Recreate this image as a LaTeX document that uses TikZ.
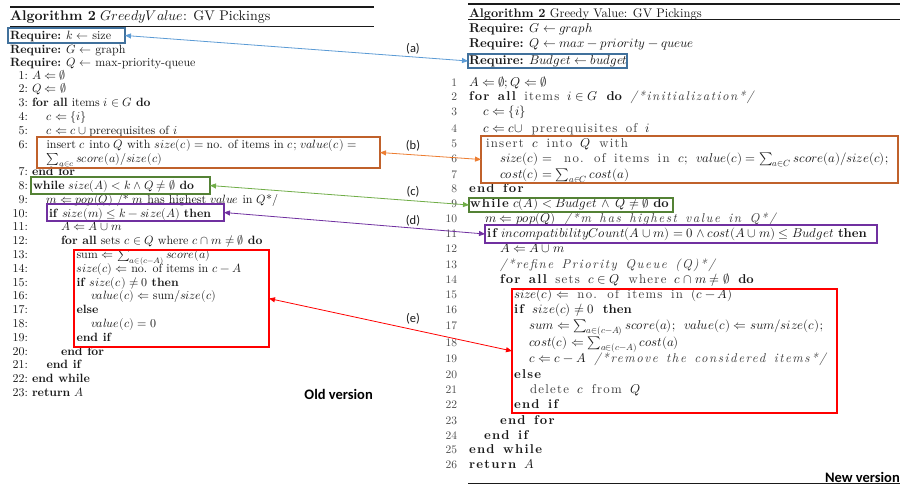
\documentclass[tikz,border=0pt]{standalone}
\usepackage{fontspec}
\usepackage{unicode-math}
% single design size of Latin Modern, scaled linearly
\setmainfont{lmroman10}[Extension=.otf, UprightFont=*-regular, BoldFont=*-bold,
  ItalicFont=*-italic, BoldItalicFont=*-bolditalic]
\setmathfont{latinmodern-math.otf}
\usetikzlibrary{arrows.meta,fit}
\newfontfamily\labelfont{Carlito}
\definecolor{ink}{HTML}{1A1A1A}
\definecolor{soft}{HTML}{3C3C3C}
\definecolor{numgray}{HTML}{4A4A4A}
\definecolor{boxblue}{HTML}{41719C}
\definecolor{arrblue}{HTML}{5B9BD5}
\definecolor{boxorange}{HTML}{C0612B}
\definecolor{arrorange}{HTML}{ED7D31}
\definecolor{boxgreen}{HTML}{548235}
\definecolor{arrgreen}{HTML}{70AD47}
\definecolor{purp}{HTML}{7030A0}
\definecolor{redc}{HTML}{FF0000}
% letter-spaced words of the revised listing
\newcommand\lsp[1]{{\color{soft}\addfontfeatures{LetterSpace=10}#1}}
\newcommand\lspb[1]{{\bfseries\addfontfeatures{LetterSpace=10}#1}}
\newcommand\lspi[1]{{\color{soft}\itshape\addfontfeatures{LetterSpace=12}#1}}
\newcommand\widewords{\spaceskip=8.5pt plus 1pt\relax}
\begin{document}
\begin{tikzpicture}[x=1pt,y=-1pt,
  txt/.style={anchor=base west, inner sep=0pt, outer sep=0pt, text=ink,
    font=\fontsize{12}{14}\selectfont},
  rmath/.style={txt, font=\fontsize{12.8}{15}\selectfont},
  rtxt/.style={txt, font=\fontsize{12.8}{15}\selectfont\widewords},
  num/.style={anchor=base east, inner sep=0pt, outer sep=0pt, text=ink,
    font=\fontsize{12}{14}\selectfont},
  rnum/.style={num, text=numgray, font=\fontsize{11.5}{14}\selectfont},
  hl/.style={draw=#1, line width=1.1pt, inner sep=0pt, outer sep=0pt},
  link/.style={draw=#1, line width=0.8pt,
    {Triangle[length=6pt,width=5pt]}-{Triangle[length=6pt,width=5pt]}},
  lab/.style={inner sep=0pt, font=\labelfont\fontsize{12.5}{14}\selectfont, text=ink},
  ver/.style={anchor=base east, inner sep=0pt, font=\labelfont\bfseries\fontsize{14.5}{16}\selectfont}]
\useasboundingbox (0,0) rectangle (902,487);
\fill[white] (0,0) rectangle (902,487);

% ---------- old listing ----------
\coordinate (lt1) at (10,7);   \coordinate (lt2) at (374,7);
\coordinate (ls1) at (10,26);  \coordinate (ls2) at (374,26);
\draw[line width=1.2pt, ink] (lt1) -- (lt2);
\draw[line width=0.5pt, ink] (ls1) -- (ls2);
\node[txt, font=\fontsize{14}{16}\selectfont] (lhead) at (10,20.5) {\textbf{Algorithm 2} $GreedyValue$: GV Pickings};
\node[txt] (lq1) at (10,39.5) {\textbf{Require:} $k\leftarrow$ size};
\node[txt] (lq2) at (10,53) {\textbf{Require:} $G\leftarrow$ graph};
\node[txt] (lq3) at (10,66.5) {\textbf{Require:} $Q\leftarrow$ max-priority-queue};

\node[num] (ln1) at (28,79) {1:};   \node[txt] (l1) at (32,79) {$A\Leftarrow\emptyset$};
\node[num] (ln2) at (28,92.8) {2:}; \node[txt] (l2) at (32,92.8) {$Q\Leftarrow\emptyset$};
\node[num] (ln3) at (28,106.6) {3:}; \node[txt] (l3) at (32,106.6) {\textbf{for all} items $i\in G$ \textbf{do}};
\node[num] (ln4) at (28,120.4) {4:}; \node[txt] (l4) at (46.5,120.4) {$c\Leftarrow\{i\}$};
\node[num] (ln5) at (28,134.2) {5:}; \node[txt] (l5) at (46.5,134.2) {$c\Leftarrow c\cup{}$prerequisites of $i$};
\node[num] (ln6) at (28,148) {6:}; \node[txt] (l6) at (46.5,148) {insert $c$ into $Q$ with $size(c)={}$no. of items in $c$; $value(c)=$};
\node[txt] (l6b) at (46.5,162) {$\sum_{a\in c} score(a)/size(c)$};
\node[num] (ln7) at (28,175.6) {7:}; \node[txt] (l7) at (32,175.6) {\textbf{end for}};
\node[num] (ln8) at (28,189.4) {8:}; \node[txt] (l8) at (33,189.4) {\textbf{while} $size(A)<k\wedge Q\neq\emptyset$ \textbf{do}};
\node[num] (ln9) at (28,203.2) {9:}; \node[txt] (l9) at (46.5,203.2) {$m\Leftarrow pop(Q)$ /* $m$ has highest $value$ in $Q$*/};
\node[num] (ln10) at (28,217) {10:}; \node[txt] (l10) at (49,217) {\textbf{if} $size(m)\leq k-size(A)$ \textbf{then}};
\node[num] (ln11) at (28,230.8) {11:}; \node[txt] (l11) at (61,230.8) {$A\Leftarrow A\cup m$};
\node[num] (ln12) at (28,244.6) {12:}; \node[txt] (l12) at (61,244.6) {\textbf{for all} sets $c\in Q$ where $c\cap m\neq\emptyset$ \textbf{do}};
\node[num] (ln13) at (28,258.4) {13:}; \node[txt] (l13) at (76.5,258.4) {sum $\Leftarrow\sum_{a\in(c-A)} score(a)$};
\node[num] (ln14) at (28,272.2) {14:}; \node[txt] (l14) at (76.5,272.2) {$size(c)\Leftarrow{}$no. of items in $c-A$};
\node[num] (ln15) at (28,286) {15:}; \node[txt] (l15) at (76.5,286) {\textbf{if} $size(c)\neq 0$ \textbf{then}};
\node[num] (ln16) at (28,299.8) {16:}; \node[txt] (l16) at (91,299.8) {$value(c)\Leftarrow{}$sum$/size(c)$};
\node[num] (ln17) at (28,313.6) {17:}; \node[txt] (l17) at (76.5,313.6) {\textbf{else}};
\node[num] (ln18) at (28,327.4) {18:}; \node[txt] (l18) at (91,327.4) {$value(c)=0$};
\node[num] (ln19) at (28,341.2) {19:}; \node[txt] (l19) at (76.5,341.2) {\textbf{end if}};
\node[num] (ln20) at (28,355) {20:}; \node[txt] (l20) at (61,355) {\textbf{end for}};
\node[num] (ln21) at (28,368.8) {21:}; \node[txt] (l21) at (46.5,368.8) {\textbf{end if}};
\node[num] (ln22) at (28,382.6) {22:}; \node[txt] (l22) at (32,382.6) {\textbf{end while}};
\node[num] (ln23) at (28,396.4) {23:}; \node[txt] (l23) at (32,396.4) {\textbf{return} $A$};
\node[ver] (oldv) at (373,399) {Old version};

% highlight frames, old listing
\node[hl=boxblue, fit={(8,28) (125,43)}] (lblue) {};
\node[hl=boxorange, fit={(37,137) (380,168)}] (lorange) {};
\node[hl=boxgreen, fit={(31,177) (210,194)}] (lgreen) {};
\node[hl=purp, fit={(47,204) (224,221)}] (lpurple) {};
\node[hl=redc, fit={(74,250) (269,347)}] (lred) {};

% ---------- revised listing ----------
\coordinate (rt1) at (468,4);   \coordinate (rt2) at (900,4);
\coordinate (rs1) at (468,19);  \coordinate (rs2) at (900,19);
\coordinate (rb1) at (468,483); \coordinate (rb2) at (900,483);
\draw[line width=1.2pt, ink] (rt1) -- (rt2);
\draw[line width=0.5pt, ink] (rs1) -- (rs2);
\draw[line width=0.8pt, ink] (rb1) -- (rb2);
\node[txt, font=\fontsize{12.5}{15}\selectfont] (rhead) at (469,17.5) {\textbf{Algorithm 2} Greedy Value: GV Pickings};
\node[rmath] (rq1) at (469,33) {\textbf{Require:} $G\leftarrow graph$};
\node[rmath] (rq2) at (469,48) {\textbf{Require:} $Q\leftarrow max-priority-queue$};
\node[rmath] (rq3) at (469,64.5) {\textbf{Require:} $Budget\leftarrow budget$};

\node[rnum] (rn1) at (457,86) {1}; \node[rmath] (r1) at (469,86) {$A\Leftarrow\emptyset;Q\Leftarrow\emptyset$};
\node[rnum] (rn2) at (457,100) {2}; \node[rtxt] (r2) at (469,100) {\lspb{for all} \lsp{items} $i\in G$ \textbf{do} \lspi{/*initialization*/}};
\node[rnum] (rn3) at (457,115) {3}; \node[rmath] (r3) at (483,115) {$c\Leftarrow\{i\}$};
\node[rnum] (rn4) at (457,132) {4}; \node[rtxt] (r4) at (483,132) {$c\Leftarrow c\cup$ \lsp{prerequisites of} $i$};
\node[rnum] (rn5) at (457,147) {5}; \node[rtxt] (r5) at (486,147) {\lsp{insert} $c$ \lsp{into} $Q$ \lsp{with}};
\node[rnum] (rn6) at (457,162) {6}; \node[rtxt] (r6) at (500,162) {$size(c)={}$ \lsp{no. of items in} $c$; $value(c)=\sum_{a\in C} score(a)/size(c)$;};
\node[rnum] (rn7) at (457,178) {7}; \node[rmath] (r7) at (500,178) {$cost(c)=\sum_{a\in C} cost(a)$};
\node[rnum] (rn8) at (457,192) {8}; \node[rtxt] (r8) at (469,192) {\lspb{end for}};
\node[rnum] (rn9) at (457,207) {9}; \node[rmath] (r9) at (470,207) {\lspb{while} $c(A)<Budget\,\wedge\,Q\neq\emptyset$ \textbf{do}};
\node[rnum] (rn10) at (457,222) {10}; \node[rtxt] (r10) at (485,222) {$m\Leftarrow pop(Q)$ \lspi{/*m has highest value in Q*/}};
\node[rnum] (rn11) at (457,237) {11}; \node[rmath] (r11) at (487,237) {\lspb{if} $incompatibilityCount(A\cup m)=0\wedge cost(A\cup m)\leq Budget$ \textbf{then}};
\node[rnum] (rn12) at (457,252) {12}; \node[rmath] (r12) at (500,252) {$A\Leftarrow A\cup m$};
\node[rnum] (rn13) at (457,268) {13}; \node[rtxt] (r13) at (500,268) {\lspi{/*refine Priority Queue (Q)*/}};
\node[rnum] (rn14) at (457,283) {14}; \node[rtxt] (r14) at (500,283) {\lspb{for all} \lsp{sets} $c\in Q$ \lsp{where} $c\cap m\neq\emptyset$ \textbf{do}};
\node[rnum] (rn15) at (457,298) {15}; \node[rtxt] (r15) at (514,298) {$size(c)\Leftarrow$ \lsp{no. of items in} $(c-A)$};
\node[rnum] (rn16) at (457,313) {16}; \node[rtxt] (r16) at (514,313) {\lspb{if} $size(c)\neq 0$ \textbf{then}};
\node[rnum] (rn17) at (457,329) {17}; \node[rmath] (r17) at (529,329) {$sum\Leftarrow\sum_{a\in(c-A)} score(a)$; \ $value(c)\Leftarrow sum/size(c)$;};
\node[rnum] (rn18) at (457,346) {18}; \node[rmath] (r18) at (529,346) {$cost(c)\Leftarrow\sum_{a\in(c-A)} cost(a)$};
\node[rnum] (rn19) at (457,362) {19}; \node[rtxt] (r19) at (529,362) {$c\Leftarrow c-A$ \lspi{/*remove the considered items*/}};
\node[rnum] (rn20) at (457,378) {20}; \node[rtxt] (r20) at (514,378) {\lspb{else}};
\node[rnum] (rn21) at (457,393) {21}; \node[rtxt] (r21) at (530,393) {\lsp{delete} $c$ \lsp{from} $Q$};
\node[rnum] (rn22) at (457,408) {22}; \node[rtxt] (r22) at (514,408) {\lspb{end if}};
\node[rnum] (rn23) at (457,424) {23}; \node[rtxt] (r23) at (500,424) {\lspb{end for}};
\node[rnum] (rn24) at (457,439) {24}; \node[rtxt] (r24) at (484,439) {\lspb{end if}};
\node[rnum] (rn25) at (457,453) {25}; \node[rtxt] (r25) at (469,453) {\lspb{end while}};
\node[rnum] (rn26) at (457,468) {26}; \node[rtxt] (r26) at (469,468) {\lspb{return} $A$};
\node[ver] (newv) at (900,482) {New version};

% highlight frames, revised listing
\node[hl=boxblue, fit={(468,54) (627,68)}] (rblue) {};
\node[hl=boxorange, fit={(481,136) (898,183)}] (rorange) {};
\node[hl=boxgreen, fit={(469,198) (673,212)}] (rgreen) {};
\node[hl=purp, fit={(485,225) (877,243)}] (rpurple) {};
\node[hl=redc, fit={(512,289) (837,413)}] (rred) {};

% correspondences between the two listings
\draw[link=arrblue] (lblue.east) -- (rblue.west);
\draw[link=arrorange] (lorange.east) -- (rorange.west);
\draw[link=arrgreen] (lgreen.east) -- (rgreen.west);
\draw[link=purp] (lpurple.east) -- (rpurple.west);
\draw[link=redc] (lred.east) -- (rred.west);
\node[lab] (la) at (413,49) {(a)};
\node[lab] (lb) at (413,146) {(b)};
\node[lab] (lc) at (413,192) {(c)};
\node[lab] (ld) at (413,221) {(d)};
\node[lab] (le) at (413,319) {(e)};
\end{tikzpicture}
\end{document}
